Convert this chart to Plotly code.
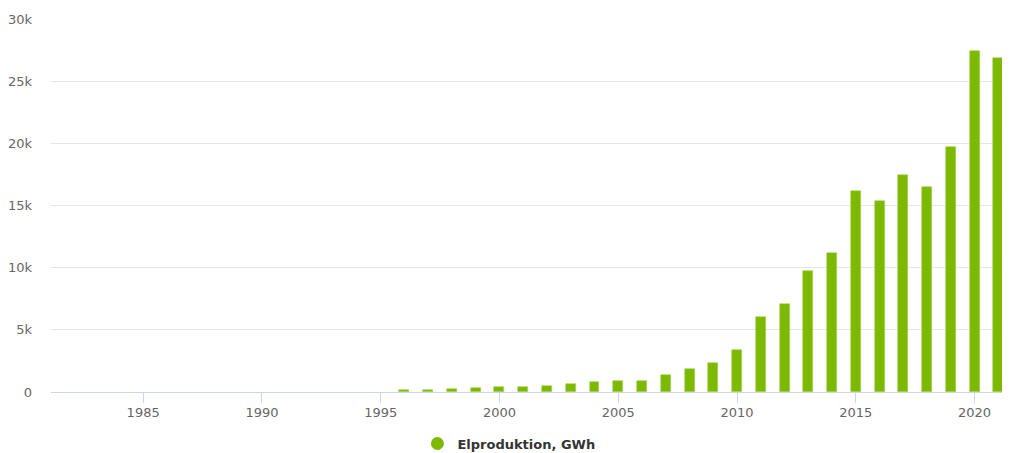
import plotly.graph_objects as go

years = list(range(1982, 2022))
# Elproduktion, GWh (pre-1996 values are too small to see)
values = [0, 0, 0, 0, 0, 0, 0, 0, 0, 0, 0, 0, 0, 0,
          140, 150, 240, 320, 430, 430, 510, 620, 800, 880,
          880, 1370, 1880, 2370, 3380, 6040, 7060, 9760, 11150,
          16200, 15400, 17460, 16500, 19700, 27400, 26900]
series_name = "Elproduktion, GWh"
y_tickvals = [0, 5000, 10000, 15000, 20000, 25000, 30000]
y_ticktext = ["0", "5k", "10k", "15k", "20k", "25k", "30k"]
x_tickvals = [1985, 1990, 1995, 2000, 2005, 2010, 2015, 2020]

GREEN = "#7cb900"
FONT = "Lucida Grande, DejaVu Sans, sans-serif"

border_widths = [0.6 if v >= 100 else 0 for v in values]

fig = go.Figure()
fig.add_trace(go.Bar(
    x=years, y=values, name=series_name, width=0.42,
    marker=dict(color=GREEN, line=dict(color="#a6d45a", width=border_widths)),
    showlegend=False,
    hovertemplate="%{x}: %{y}<extra></extra>",
))
fig.add_trace(go.Scatter(
    x=[None], y=[None], mode="markers", name=series_name,
    marker=dict(color=GREEN, size=13, symbol="circle"),
    showlegend=True,
))

# the page body has an 8px margin, so the figure is drawn 8px in from the corner
fig.update_layout(
    width=1002, height=445,
    margin=dict(l=43, r=1, t=11, b=61, autoexpand=False),
    paper_bgcolor="white", plot_bgcolor="white",
    font=dict(family=FONT, size=13, color="#666666"),
    bargap=0,
    legend=dict(orientation="h", x=0.478, xanchor="center", y=-0.098,
                yanchor="top", font=dict(size=13, color="#333333", family=FONT,
                                         weight="bold"),
                itemwidth=30),
    xaxis=dict(range=[1981.12, 2021.45], tickvals=x_tickvals,
               showgrid=False, zeroline=False, automargin=False,
               showline=True, linecolor="#ccd6eb", linewidth=1,
               layer="above traces",
               ticks="outside", ticklen=10, tickcolor="#ccd6eb",
               ticklabelstandoff=-2,
               tickfont=dict(size=13, color="#666666")),
    yaxis=dict(range=[0, 30000], tickvals=y_tickvals, ticktext=y_ticktext,
               showgrid=True, gridcolor="#e6e6e6", gridwidth=1,
               zeroline=False, showline=False, automargin=False,
               ticklabelstandoff=18,
               tickfont=dict(size=13, color="#666666")),
)

fig.write_html("out.html")
